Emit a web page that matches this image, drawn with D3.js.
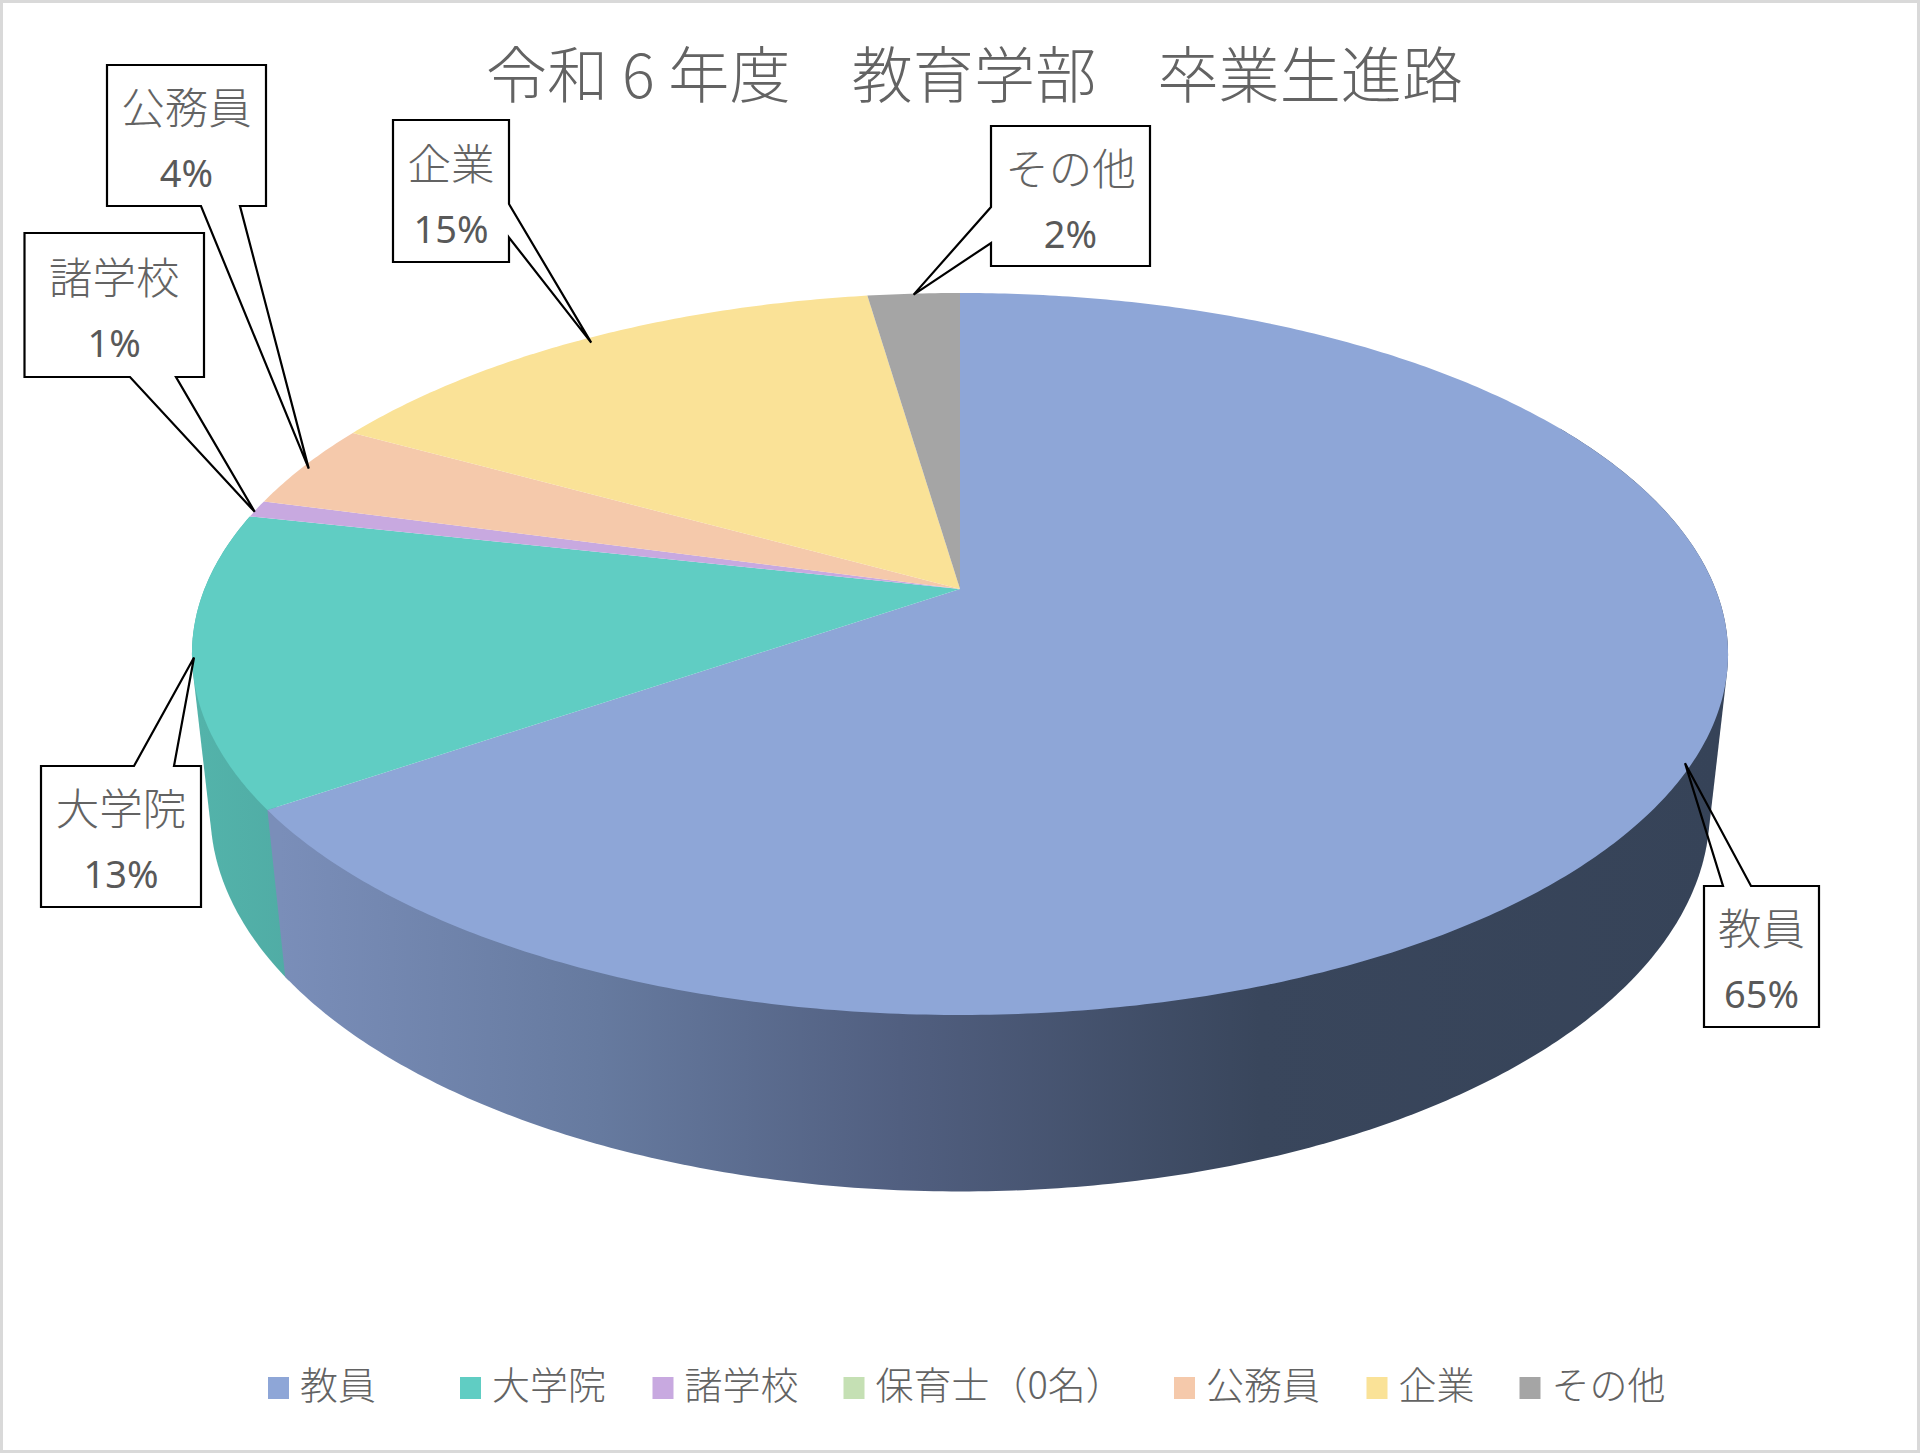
<!DOCTYPE html>
<html lang="ja">
<head>
<meta charset="utf-8">
<script src="https://cdn.jsdelivr.net/npm/d3@7"></script>
<style>
  html, body { margin: 0; padding: 0; background: #fff; }
  svg { display: block; }
  text { font-family: "Noto Sans CJK JP", sans-serif; font-weight: 300; fill: #636363; }
  .pct { font-family: "Noto Sans", sans-serif; font-weight: 400; fill: #595959; }
</style>
</head>
<body>
<script>
// values (headcounts behind the rounded percentages)
const categories = ["教員", "大学院", "諸学校", "保育士（0名）", "公務員", "企業", "その他"];
const counts = [85, 17, 1, 0, 5, 19, 3];
const percentLabels = ["65%", "13%", "1%", null, "4%", "15%", "2%"];
const calloutNames = ["教員", "大学院", "諸学校", null, "公務員", "企業", "その他"];
const sliceColors = ["#8ea6d7", "#60cdc3", "#c8a9e0", "#c5e0b4", "#f5c9ab", "#fae297", "#a5a5a5"];

const width = 1920;
const height = 1453;

// Perspective of the 3D pie: u, v on the unit circle, z = 0 top face, z = 1 bottom face
const persp = { cx: 960, cy: 589, A: 755.5, B: 349.3, k: 0.18, m: 0.0237, H: 159 };

function project(angle, r, z) {
  const u = r * Math.sin(angle);
  const v = -r * Math.cos(angle);
  const w = 1 - persp.k * v + persp.m * z;
  return [persp.cx + (persp.A * u) / w, persp.cy + (persp.B * v + persp.H * z) / w];
}

const svg = d3
  .select("body")
  .append("svg")
  .attr("width", width)
  .attr("height", height);

svg
  .append("rect")
  .attr("x", 1.5)
  .attr("y", 1.5)
  .attr("width", width - 3)
  .attr("height", height - 3)
  .attr("fill", "#fff")
  .attr("stroke", "#d9d9d9")
  .attr("stroke-width", 3);

const pie = d3.pie().sort(null).value((d) => d);
const arcs = pie(counts);
const line = d3.line();

// Side wall shading runs left to right
const defs = svg.append("defs");
function wallGradient(id, stops) {
  const g = defs
    .append("linearGradient")
    .attr("id", id)
    .attr("gradientUnits", "userSpaceOnUse")
    .attr("x1", 0)
    .attr("x2", width)
    .attr("y1", 0)
    .attr("y2", 0);
  stops.forEach(([x, c]) =>
    g.append("stop").attr("offset", x / width).attr("stop-color", c)
  );
}
wallGradient("wall0", [
  [280, "#7a8eb9"],
  [600, "#667a9f"],
  [900, "#515f80"],
  [1260, "#39465c"],
  [1720, "#364358"],
]);
wallGradient("wall1", [
  [200, "#53b3aa"],
  [290, "#50aca5"],
]);

// Wall of a slice: hull of both rims. Whatever the hull takes in above the top rim is
// painted over by the top face, and it keeps the tangent edge between the rims.
// The big slice starts at 60deg so its back never shows round the far rim.
function wallPath(from, to) {
  const n = Math.ceil((to - from) / 0.01);
  const angles = d3.range(n + 1).map((j) => from + ((to - from) * j) / n);
  const hull = d3.polygonHull([
    ...angles.map((t) => project(t, 1, 0)),
    ...angles.map((t) => project(t, 1, 1)),
  ]);
  return line(hull) + "Z";
}

const walls = svg.append("g");
// teal first, the blue wall covers the overlap at their shared edge
walls
  .append("path")
  .attr("d", wallPath(arcs[1].startAngle - 0.01, arcs[1].endAngle))
  .attr("fill", "url(#wall1)");
walls
  .append("path")
  .attr("d", wallPath(Math.PI / 3, arcs[0].endAngle))
  .attr("fill", "url(#wall0)");

// Top face
function slicePath(a) {
  const n = Math.max(2, Math.ceil((a.endAngle - a.startAngle) / 0.01));
  const pts = d3.range(n + 1).map((j) =>
    project(a.startAngle + ((a.endAngle - a.startAngle) * j) / n, 1, 0)
  );
  return line([project(0, 0, 0), ...pts]) + "Z";
}

svg
  .append("g")
  .selectAll("path")
  .data(arcs.filter((a) => a.value > 0))
  .join("path")
  .attr("d", slicePath)
  .attr("fill", (a) => sliceColors[a.index]);

// Title
svg
  .append("text")
  .attr("x", 974.5)
  .attr("y", 98)
  .attr("text-anchor", "middle")
  .attr("font-size", 61)
  .attr("textLength", 977)
  .text("令和 6 年度　教育学部　卒業生進路");

// Data label callouts: box, where the pointer leaves the box, nudges of tip and text
const calloutBoxes = {
  教員: { x: 1704, y: 886, w: 115, h: 141, side: "top", p0: 1723, p1: 1751, tip: [-5, -3], dy: 0 },
  大学院: { x: 41, y: 766, w: 160, h: 141, side: "top", p0: 134, p1: 174, tip: [2, -1], dy: 0 },
  諸学校: { x: 24.5, y: 233, w: 179.5, h: 144, side: "bottom", p0: 130, p1: 176, tip: [-2, 3], dy: 2 },
  公務員: { x: 107, y: 65, w: 159, h: 141, side: "bottom", p0: 201, p1: 240, tip: [4, 3], dy: 0 },
  企業: { x: 393, y: 120, w: 116, h: 142, side: "right", p0: 204, p1: 237.5, tip: [5, 4], dy: 1 },
  その他: { x: 991, y: 126, w: 159, h: 140, side: "left", p0: 207, p1: 243, tip: [0, 1], dy: 0 },
};

function calloutPath(b, tip) {
  const x1 = b.x + b.w;
  const y1 = b.y + b.h;
  let pts;
  if (b.side == "top") {
    pts = [[b.x, b.y], [b.p0, b.y], tip, [b.p1, b.y], [x1, b.y], [x1, y1], [b.x, y1]];
  } else if (b.side == "bottom") {
    pts = [[b.x, b.y], [x1, b.y], [x1, y1], [b.p1, y1], tip, [b.p0, y1], [b.x, y1]];
  } else if (b.side == "right") {
    pts = [[b.x, b.y], [x1, b.y], [x1, b.p0], tip, [x1, b.p1], [x1, y1], [b.x, y1]];
  } else {
    pts = [[b.x, b.y], [x1, b.y], [x1, y1], [b.x, y1], [b.x, b.p1], tip, [b.x, b.p0]];
  }
  return line(pts) + "Z";
}

const boxOf = (a) => calloutBoxes[calloutNames[a.index]];

const callouts = svg
  .append("g")
  .selectAll("g")
  .data(arcs.filter((a) => calloutNames[a.index]))
  .join("g");

callouts
  .append("path")
  .attr("d", (a) => {
    const b = boxOf(a);
    const p = project((a.startAngle + a.endAngle) / 2, 1, 0);
    return calloutPath(b, [p[0] + b.tip[0], p[1] + b.tip[1]]);
  })
  .attr("fill", "none")
  .attr("stroke", "#000")
  .attr("stroke-width", 2.2)
  .attr("stroke-linejoin", "miter");

callouts
  .append("text")
  .attr("x", (a) => boxOf(a).x + boxOf(a).w / 2)
  .attr("y", (a) => boxOf(a).y + 59 + boxOf(a).dy)
  .attr("text-anchor", "middle")
  .attr("font-size", 43.5)
  .text((a) => calloutNames[a.index]);

callouts
  .append("text")
  .attr("class", "pct")
  .attr("x", (a) => boxOf(a).x + boxOf(a).w / 2)
  .attr("y", (a) => boxOf(a).y + 122 + boxOf(a).dy)
  .attr("text-anchor", "middle")
  .attr("font-size", 38)
  .text((a) => percentLabels[a.index]);

// Legend
const legendX = [268, 460, 652.5, 843.5, 1174, 1366.5, 1519.5];
const legendItems = svg
  .append("g")
  .selectAll("g")
  .data(categories)
  .join("g")
  .attr("transform", (d, i) => `translate(${legendX[i]},1377)`);

legendItems
  .append("rect")
  .attr("width", 21)
  .attr("height", 22)
  .attr("fill", (d, i) => sliceColors[i]);

legendItems
  .append("text")
  .attr("x", 32)
  .attr("y", 22)
  .attr("font-size", 38)
  .text((d) => d);
</script>
</body>
</html>
